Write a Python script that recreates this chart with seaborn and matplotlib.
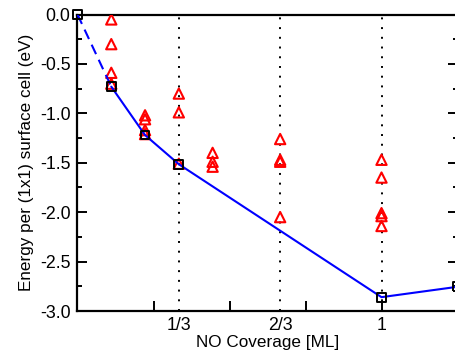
import matplotlib
matplotlib.use("Agg")
import matplotlib.pyplot as plt
import numpy as np
import pandas as pd
import seaborn as sns

# ---- data ----
# convex hull (black squares, blue line)
hull_x = [0.0, 1/9, 2/9, 1/3, 1.0, 1.25]
hull_y = [0.0, -0.73, -1.22, -1.515, -2.86, -2.755]

# all configurations (red open triangles)
tri_x = [1/9, 1/9, 1/9, 1/9,
         2/9, 2/9, 2/9, 2/9,
         1/3, 1/3, 1/3,
         4/9, 4/9, 4/9,
         2/3, 2/3, 2/3, 2/3,
         1.0, 1.0, 1.0, 1.0, 1.0]
tri_y = [-0.05, -0.30, -0.59, -0.70,
         -1.02, -1.06, -1.17, -1.21,
         -0.80, -0.99, -1.51,
         -1.40, -1.49, -1.54,
         -1.26, -1.47, -1.49, -2.05,
         -1.47, -1.65, -2.01, -2.04, -2.14]

xtick_vals = [1/3, 2/3, 1.0]
xtick_labels = ["1/3", "2/3", "1"]

sns.set_theme(style="white")
plt.rcParams['font.family'] = ['Liberation Sans', 'DejaVu Sans']

fig = plt.figure(figsize=(4.56, 3.52), dpi=100)
W, H = 456, 352
ax = fig.add_axes([77.5 / W, 1 - 311 / H, (457.5 - 77.5) / W, (311 - 14.5) / H])

# vertical dotted guides
for xv in xtick_vals:
    ax.axvline(xv, color="black", linestyle=(0, (1, 4)), lw=1.4, zorder=1)

df_tri = pd.DataFrame({"x": tri_x, "y": tri_y})
sns.scatterplot(data=df_tri, x="x", y="y", ax=ax, marker="^", s=55,
                linewidth=1.5, zorder=3, color="red")
ax.collections[-1].set_facecolor("none")
ax.collections[-1].set_edgecolor("red")

df_dash = pd.DataFrame({"x": hull_x[:2], "y": hull_y[:2]})
df_solid = pd.DataFrame({"x": hull_x[1:], "y": hull_y[1:]})
sns.lineplot(data=df_dash, x="x", y="y", ax=ax, color="blue", lw=1.5,
             linestyle=(0, (5, 3)), zorder=4, sort=False)
sns.lineplot(data=df_solid, x="x", y="y", ax=ax, color="blue", lw=1.5,
             zorder=4, sort=False)

df_hull = pd.DataFrame({"x": hull_x, "y": hull_y})
sns.scatterplot(data=df_hull, x="x", y="y", ax=ax, marker="s", s=40,
                linewidth=1.4, zorder=5, clip_on=False, color="black")
ax.collections[-1].set_facecolor("none")
ax.collections[-1].set_edgecolor("black")

ax.set_xlim(0, 1.25)
ax.set_ylim(-3.0, 0.0)

# x ticks: unlabeled marks at 0.25 steps, labels at 1/3, 2/3, 1
ax.xaxis.remove_overlapping_locs = False
ax.set_xticks([0.25, 0.5, 0.75, 1.0])
ax.set_xticklabels([])
ax.set_xticks(xtick_vals, minor=True)
ax.set_xticklabels(xtick_labels, minor=True)
ax.tick_params(axis="x", which="major", direction="in", length=7, width=1.4,
               bottom=True, top=False, color="black")
ax.tick_params(axis="x", which="minor", length=0, pad=4, labelsize=12.8,
               labelcolor="black")

ax.set_yticks(np.arange(-3.0, 0.01, 0.5))
ax.set_yticklabels([f"{v:.1f}" for v in np.arange(-3.0, 0.01, 0.5)])
ax.set_yticks(np.arange(-2.75, 0, 0.5), minor=True)
ax.tick_params(axis="y", which="major", direction="in", length=7, width=1.4,
               left=True, right=True, labelsize=12.8, pad=5, labelcolor="black",
               color="black")
ax.tick_params(axis="y", which="minor", direction="in", length=3.5, width=1.4,
               left=True, right=True, color="black")

for sp in ax.spines.values():
    sp.set_color("black")
    sp.set_linewidth(1.6)

ax.set_xlabel("NO Coverage [ML]", fontsize=12.3, labelpad=1, color="black")
ax.set_ylabel("Energy per (1x1) surface cell (eV)", fontsize=12.3, labelpad=4,
              color="black")

fig.savefig("out.png", dpi=100)
